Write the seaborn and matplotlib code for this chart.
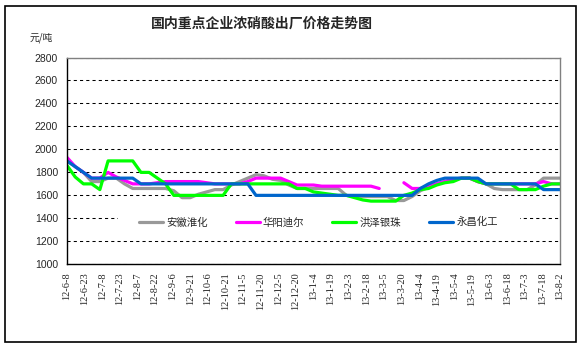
import numpy as np
import pandas as pd
import matplotlib
matplotlib.use("Agg")
import matplotlib.pyplot as plt
import matplotlib.dates as mdates
from matplotlib.patches import Rectangle
import seaborn as sns

# Weekly ex-factory prices of concentrated nitric acid (yuan/ton)
series_names = ["安徽淮化", "华阳迪尔", "洪泽银珠", "永昌化工"]
series_colors = ["#999999", "#FF00FF", "#00FF00", "#0066CC"]
week_dates = pd.date_range("2012-06-08", periods=61, freq="7D")

anhui = [1900, 1850, 1800, 1720, 1720, 1750, 1750, 1700, 1660, 1660,
         1660, 1660, 1660, 1640, 1580, 1580, 1610, 1630, 1650, 1650,
         1690, 1720, 1750, 1780, 1770, 1740, 1730, 1690, 1660, 1660,
         1660, 1660, 1660, 1660, 1600, 1590, 1590, 1590, 1590, 1590,
         1555, 1555, 1590, 1640, 1670, 1700, 1720, 1740, 1750, 1750,
         1720, 1700, 1660, 1650, 1650, 1650, 1650, 1690, 1750, 1750,
         1750]
huayang = [1930, 1850, 1800, 1750, 1750, 1800, 1760, 1730, 1700, 1700,
           1700, 1710, 1720, 1720, 1720, 1720, 1720, 1710, 1700, 1700,
           1700, 1700, 1720, 1750, 1750, 1750, 1750, 1720, 1690, 1690,
           1690, 1680, 1680, 1680, 1680, 1680, 1680, 1680, 1660, np.nan,
           np.nan, 1710, 1660, 1660, 1680, 1700, 1720, 1740, 1750, 1750,
           1720, 1700, 1700, 1700, 1700, 1700, 1700, 1700, 1720, 1700,
           1700]
hongze = [1860, 1760, 1700, 1700, 1650, 1900, 1900, 1900, 1900, 1800,
          1800, 1750, 1700, 1600, 1600, 1600, 1600, 1600, 1600, 1600,
          1700, 1700, 1700, 1700, 1700, 1700, 1700, 1700, 1660, 1660,
          1630, 1620, 1610, 1600, 1600, 1580, 1560, 1550, 1550, 1550,
          1550, 1600, 1620, 1650, 1660, 1690, 1710, 1720, 1750, 1750,
          1720, 1700, 1700, 1700, 1700, 1650, 1650, 1650, 1680, 1700,
          1700]
yongchang = [1900, 1850, 1800, 1750, 1750, 1750, 1750, 1750, 1750, 1700,
             1700, 1700, 1700, 1700, 1700, 1700, 1700, 1700, 1700, 1700,
             1700, 1700, 1700, 1600, 1600, 1600, 1600, 1600, 1600, 1600,
             1600, 1600, 1600, 1600, 1600, 1600, 1600, 1600, 1600, 1600,
             1600, 1600, 1600, 1660, 1700, 1730, 1750, 1750, 1750, 1750,
             1750, 1700, 1700, 1700, 1700, 1700, 1700, 1700, 1650, 1650,
             1650]

tick_labels = ["12-6-8", "12-6-23", "12-7-8", "12-7-23", "12-8-7", "12-8-22",
               "12-9-6", "12-9-21", "12-10-6", "12-10-21", "12-11-5",
               "12-11-20", "12-12-5", "12-12-20", "13-1-4", "13-1-19",
               "13-2-3", "13-2-18", "13-3-5", "13-3-20", "13-4-4", "13-4-19",
               "13-5-4", "13-5-19", "13-6-3", "13-6-18", "13-7-3", "13-7-18",
               "13-8-2"]
y_ticks = list(range(1000, 2801, 200))

title = "国内重点企业浓硝酸出厂价格走势图"
unit_label = "元/吨"

sns.set_style("white")
plt.rcParams["font.family"] = ["Noto Sans CJK SC", "DejaVu Sans"]

# Long-form table; a missing week starts a new segment so the line breaks
rows = []
for name, vals in zip(series_names, [anhui, huayang, hongze, yongchang]):
    seg = 0
    for d, v in zip(week_dates, vals):
        if np.isnan(v):
            seg += 1
            continue
        rows.append({"date": d, "price": v, "company": name, "seg": seg})
df = pd.DataFrame(rows)

W, H = 583, 348
fig = plt.figure(figsize=(W / 100, H / 100), dpi=100)
fig.patch.set_facecolor("white")
ax = fig.add_axes([67 / W, 1 - 264.3 / H, (560 - 67) / W, (264.3 - 57.5) / H])

sns.lineplot(data=df, x="date", y="price", hue="company", units="seg",
             estimator=None, hue_order=series_names,
             palette=dict(zip(series_names, series_colors)),
             linewidth=2.3, ax=ax, legend=True, sort=True)

ax.set_xlim(mdates.date2num(week_dates[0]), mdates.date2num(week_dates[-1]))
ax.set_ylim(y_ticks[0], y_ticks[-1])
ax.set_yticks(y_ticks)
ax.set_yticklabels([str(v) for v in y_ticks], family="Liberation Sans", fontsize=7.5)

tick_dates = pd.to_datetime(["20" + t for t in tick_labels], format="%Y-%m-%d")
ax.set_xticks(mdates.date2num(tick_dates))
ax.set_xticklabels(tick_labels, rotation=90, family="Liberation Serif",
                   fontsize=7.5, va="top", ha="center")
ax.set_xlabel("")
ax.set_ylabel("")

ax.tick_params(axis="both", direction="in", length=3, width=0.8, color="black")
ax.tick_params(axis="y", pad=6.5)
ax.tick_params(axis="x", pad=6)

ax.set_axisbelow(True)
ax.yaxis.grid(True, color="black", linestyle=(0, (3, 3)), linewidth=0.75)
ax.xaxis.grid(False)

for side in ["top", "right"]:
    ax.spines[side].set_color("#808080")
    ax.spines[side].set_linewidth(1.0)
for side in ["left", "bottom"]:
    ax.spines[side].set_color("black")
    ax.spines[side].set_linewidth(1.0)

# Legend strip with a white backing over the 1400 grid line
ax.add_patch(Rectangle((0.103, 0.152), 0.815, 0.100, transform=ax.transAxes,
                       facecolor="white", edgecolor="none", zorder=1))
handles, labels = ax.get_legend_handles_labels()
ax.legend(handles, labels, loc="center", bbox_to_anchor=(0.51, 0.203), ncol=4,
          frameon=False, fontsize=7.5, handlelength=2.3, handletextpad=0.3,
          columnspacing=2.7, borderpad=0.2)

fig.text(262 / W, 1 - 24 / H, title, ha="center", va="center",
         fontsize=10, fontweight="bold")
fig.text(30 / W, 1 - 38 / H, unit_label, ha="left", va="center", fontsize=7)

fig.add_artist(Rectangle((5 / W, 6 / H), 571 / W, 336 / H,
                         transform=fig.transFigure, fill=False,
                         edgecolor="black", linewidth=1.2))

fig.savefig("out.png", dpi=100)
